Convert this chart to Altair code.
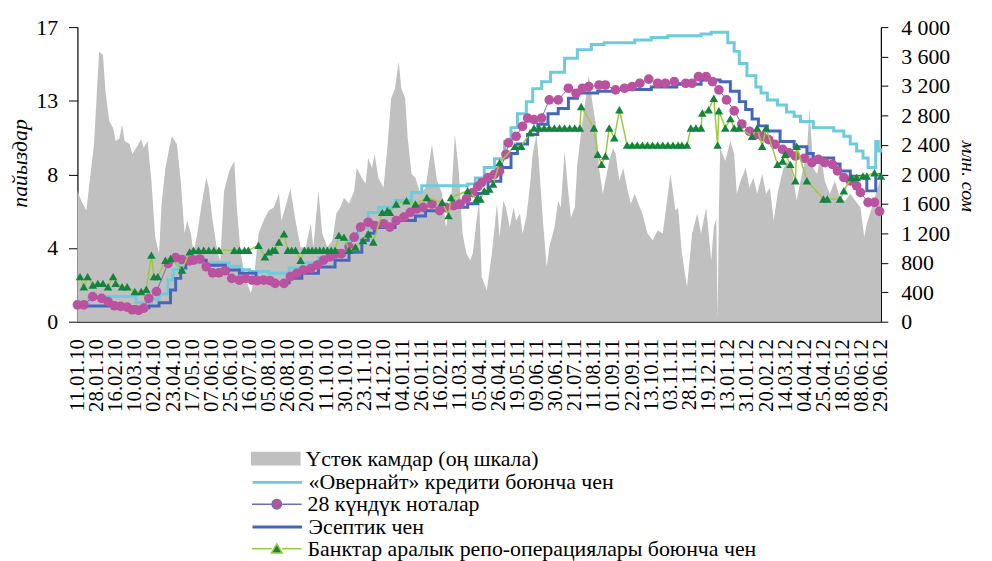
import altair as alt
import pandas as pd

FONT = "Liberation Serif, Times New Roman, Tinos, DejaVu Serif, serif"

date_labels = ['11.01.10','28.01.10','16.02.10','10.03.10','02.04.10','23.04.10','17.05.10','07.06.10',
               '25.06.10','16.07.10','05.08.10','26.08.10','20.09.10','11.10.10','30.10.10','23.11.10',
               '14.12.10','04.01.11','26.01.11','16.02.11','11.03.11','05.04.11','26.04.11','19.05.11',
               '09.06.11','30.06.11','21.07.11','11.08.11','01.09.11','22.09.11','13.10.11','03.11.11',
               '28.11.11','19.12.11','13.01.12','31.01.12','20.02.12','14.03.12','04.04.12','25.04.12',
               '18.05.12','08.06.12','29.06.12']
LABEL_STEP = 15  # observations between x tick labels
N_OBS = LABEL_STEP * (len(date_labels) - 1)

series_names = ['Үстөк камдар (оң шкала)', '«Овернайт» кредити боюнча чен', '28 күндүк ноталар',
                'Эсептик чен', 'Банктар аралык репо-операциялары боюнча чен']

# excess reserves (right axis, mln som)
area_idx = [0,3,7,9,13,17,20,22,25,28,30,33,35,37,41,43,46,50,52,55,58,61,64,66,69,72,74,78,81,84,86,89,91,94,97,
            101,103,106,110,112,115,119,123,125,128,132,136,138,142,146,150,154,158,160,163,167,171,175,179,183,
            185,189,192,196,200,203,206,209,213,217,219,223,226,228,231,233,236,240,243,246,249,252,254,257,259,
            262,265,269,273,278,282,286,289,293,296,299,302,305,308,310,313,315,317,321,325,329,331,334,336,339,
            342,344,347,349,352,355,357,360,362,365,368,370,374,377,379,382,385,387,390,392,396,399,401,404,407,
            409,412,414,417,420,422,425,428,431,434,437,441,443,447,451,455,459,463,465,469,471,474,478,482,486,
            489,493,497,499,501,502,503,504,508,512,515,517,520,524,527,530,533,537,540,543,546,549,553,556,560,
            564,568,572,574,577,580,583,586,590,594,598,602,606,610,614,617,619,623,626,630]
area_val = [1778,1643,1509,1818,2411,3664,3623,3125,2721,2627,2452,2492,2680,2452,2411,2276,2357,2478,2357,2452,
            1913,1145,929,1603,2088,2357,2519,2411,1913,1199,1374,1199,929,1199,1549,1953,1818,1374,929,835,1778,
            2047,2182,1549,929,566,391,525,1199,1374,1509,1549,1737,1374,1549,1805,1374,1010,1010,1333,1010,1778,
            1199,1010,1105,1468,1549,1684,1603,1778,2088,1953,1872,2223,2088,2276,1953,1818,2357,3031,3166,3529,
            3166,3031,2492,2007,1953,1737,1818,2411,1913,1737,1280,1643,2546,2047,1199,929,835,929,1374,1643,606,
            431,929,1603,1145,1643,1549,1280,1549,1374,1468,1199,1414,1872,2276,2546,2142,1374,741,1010,1280,1643,
            1549,2317,1737,1414,1549,2142,2721,3085,3354,2950,2627,2088,1737,1913,2182,2357,2276,1913,2088,1818,
            1603,1737,1549,1468,1199,1105,1239,1199,1737,2007,1509,1549,929,471,1199,1468,1199,1549,835,1280,1400,
            40,1500,2357,2182,2452,2276,1737,1913,2088,1818,1953,1737,2007,1737,1818,1374,1737,2047,2182,2088,1643,
            2007,2276,2896,2088,2007,2276,1913,1737,1913,1684,1643,1737,1643,1549,1145,1333,1549,1737,1953]

# overnight credit rate (%)
on_idx = [0,9,46,58,64,71,75,80,119,127,135,150,166,176,189,202,213,220,228,236,249,262,270,306,312,319,327,335,
          340,345,352,357,364,371,382,392,403,413,437,450,463,489,497,510,515,519,525,532,536,541,549,556,562,567,
          577,593,601,606,611,616,620,626,628,630]
on_val = [1.1,1.45,1.1,1.3,1.6,2.4,3.0,3.4,3.2,3.0,2.9,2.8,3.1,3.4,3.7,4.1,4.7,5.4,6.3,6.6,7.0,7.45,7.85,7.95,8.3,
          8.9,9.4,10.4,11.2,12.0,12.7,13.45,13.85,14.4,15.2,15.7,16.0,16.1,16.25,16.4,16.5,16.6,16.7,16.1,15.6,14.9,
          14.2,13.55,13.2,12.8,12.5,12.1,11.85,11.55,11.2,11.0,10.7,10.25,9.85,9.45,8.9,10.4,9.85,10.0]

# 28-day notes yield (%)
nt_idx = [0,5,12,19,24,29,34,39,43,48,52,56,62,71,77,82,88,91,96,101,106,111,116,121,127,132,137,141,146,151,155,
          162,167,172,177,183,188,193,198,203,207,213,217,222,228,233,240,245,250,256,261,266,271,278,284,289,295,
          300,305,310,314,317,322,327,331,336,338,344,349,353,358,364,370,377,385,391,396,401,409,414,422,429,435,
          441,448,455,461,468,477,482,487,493,498,503,509,515,521,527,532,537,542,547,553,558,563,570,576,581,586,
          592,596,601,606,611,614,620,625,629]
nt_val = [0.97,0.97,1.45,1.35,1.16,0.92,0.88,0.84,0.69,0.65,0.78,1.35,1.74,3.36,3.7,3.59,3.51,3.55,3.62,3.17,2.82,
          2.82,2.94,2.5,2.4,2.5,2.4,2.37,2.4,2.37,2.21,2.21,2.6,2.79,2.98,3.07,3.26,3.55,3.74,3.93,3.93,4.31,4.88,
          5.46,5.74,5.55,5.65,5.46,5.84,6.03,6.31,6.51,6.6,6.79,6.41,6.6,6.7,6.79,7.08,7.45,7.8,8.03,8.32,8.51,8.7,
          9.66,10.32,10.7,11.28,11.75,11.66,11.75,12.8,12.8,13.47,13.18,13.47,13.57,13.66,13.66,13.38,13.47,13.57,
          13.76,14.0,13.76,13.76,13.85,13.76,13.76,14.14,14.14,13.85,13.38,12.8,12.17,11.41,10.99,10.8,10.7,10.51,
          10.23,9.94,9.75,9.56,9.43,9.18,9.37,9.18,9.08,8.7,8.32,8.13,7.84,7.46,6.89,6.89,6.37]

# discount (base) rate (%)
bl_idx = [0,28,46,56,64,73,77,81,85,101,116,127,140,150,166,176,189,202,213,223,228,233,249,265,273,288,306,314,
          322,332,340,345,353,361,369,377,385,392,408,421,450,470,489,504,512,519,524,529,534,541,551,562,572,577,
          593,598,606,619,626,630]
bl_val = [0.9,0.86,0.8,0.9,1.09,1.83,2.5,3.1,3.55,3.26,2.98,2.8,2.5,2.25,2.5,2.8,3.15,3.55,4.0,4.7,5.1,5.44,5.84,
          6.1,6.4,6.6,6.8,7.4,8.1,8.9,9.7,10.25,10.8,11.4,12.0,12.3,12.9,13.2,13.3,13.4,13.55,13.7,13.95,13.85,13.3,
          12.7,12.25,11.7,11.3,11.0,10.4,10.1,9.7,9.45,9.1,8.7,8.4,7.55,8.5,8.5]

# interbank repo rate (%)
rp_idx = [2,5,8,12,16,20,24,28,30,35,39,45,50,54,58,60,63,69,73,82,88,91,95,99,103,107,111,123,127,131,134,142,147,
          150,153,155,158,162,165,168,171,175,178,181,184,187,190,193,196,199,202,205,209,213,218,224,228,232,239,
          243,245,250,258,265,274,286,291,293,306,313,316,319,323,326,331,343,348,355,358,362,366,370,374,378,382,
          386,390,394,395,405,408,411,414,417,421,425,431,435,439,443,447,451,455,459,463,467,471,474,478,481,485,
          489,490,495,499,502,503,508,512,515,519,529,533,537,540,549,553,555,559,563,564,572,585,588,598,601,607,
          611,616,619,625,630]
rp_val = [2.6,2.02,2.6,2.12,2.21,2.21,2.02,2.6,2.21,2.02,2.02,1.74,1.74,1.87,3.84,2.6,2.6,3.55,3.65,2.98,4.03,4.12,
          4.12,4.12,4.12,4.12,4.12,4.12,4.12,4.12,4.12,4.41,3.74,4.03,4.12,4.12,4.6,5.08,4.12,4.12,4.12,3.55,4.12,
          4.12,4.12,4.12,4.12,4.12,4.12,4.12,4.12,4.98,4.88,4.12,4.31,4.69,5.08,4.6,6.31,6.41,6.31,6.79,6.98,6.79,
          7.17,6.89,6.12,7.17,7.56,7.08,7.08,7.56,7.65,7.94,9.18,10.13,10.13,10.9,11.18,11.18,11.18,11.18,11.18,
          11.18,11.18,11.18,11.18,11.18,12.42,11.18,9.66,9.08,9.56,11.18,10.61,12.23,10.19,10.19,10.19,10.19,10.19,
          10.19,10.19,10.19,10.19,10.19,10.19,10.19,10.19,11.18,11.18,11.18,12.04,12.23,12.9,10.19,12.17,11.18,
          11.72,11.18,11.18,10.7,11.18,10.13,11.18,9.08,9.27,9.66,9.08,8.13,10.13,8.13,7.08,7.08,7.08,7.56,8.32,
          8.32,8.41,8.41,8.6,8.41]

colors = {'area': '#C0C0C0', 'on': '#6DCBDB', 'nt': '#B9529F', 'nt_line': '#6F6FB0',
          'bl': '#4566BA', 'rp': '#13843F', 'rp_line': '#9BCB3C'}

area_df = pd.DataFrame({'i': area_idx, 'v': area_val, 's': series_names[0]})
on_df = pd.DataFrame({'i': on_idx, 'v': on_val, 's': series_names[1]})
nt_df = pd.DataFrame({'i': nt_idx, 'v': nt_val, 's': series_names[2]})
bl_df = pd.DataFrame({'i': bl_idx, 'v': bl_val, 's': series_names[3]})
rp_df = pd.DataFrame({'i': rp_idx, 'v': rp_val, 's': series_names[4]})

xscale = alt.Scale(domain=[0, N_OBS], nice=False, zero=False)
lab_arr = "[" + ",".join("'" + d + "'" for d in date_labels) + "]"
xaxis = alt.Axis(values=list(range(0, N_OBS + 1, LABEL_STEP)),
                 labelExpr=f"{lab_arr}[round(datum.value/{LABEL_STEP})]",
                 labelAngle=270, labelAlign='right', labelBaseline='middle', labelPadding=17,
                 ticks=False, grid=False, domainColor='black', domainWidth=1.2,
                 labelFont=FONT, labelFontSize=21, labelColor='black', title=None, labelOverlap=False,
                 labelFlush=False, labelBound=False)
X = alt.X('i:Q', scale=xscale, axis=xaxis)

yL = alt.Scale(domain=[0, 17], nice=False, zero=True)
yR = alt.Scale(domain=[0, 4000], nice=False, zero=True)

left_axis = alt.Axis(values=[0, 4.25, 8.5, 12.75, 17],
                     labelExpr="['0','4','8','13','17'][round(datum.value/4.25)]",
                     grid=False, tickSize=9, tickColor='black', domainColor='black', domainWidth=1.2,
                     labelPadding=11, labelFont=FONT, labelFontSize=22, labelColor='black',
                     title='пайыздар', titleFont=FONT, titleFontSize=22, titleFontStyle='italic',
                     titleFontWeight='normal', titleColor='black', titleAngle=270,
                     titleX=-51, titleY=137, titleAlign='center', titleBaseline='alphabetic')
right_axis = alt.Axis(orient='right', values=list(range(0, 4001, 400)),
                      labelExpr="replace(format(datum.value, ','), ',', ' ')",
                      grid=False, tickSize=7, tickColor='black', domainColor='black', domainWidth=1.2,
                      labelPadding=13, labelFont=FONT, labelFontSize=22, labelColor='black',
                      title='млн. сом', titleFont=FONT, titleFontSize=20, titleFontStyle='italic',
                      titleFontWeight='normal', titleColor='black', titleAngle=90,
                      titleX=81, titleY=150, titleAlign='center', titleBaseline='alphabetic')


def leg(row, path, fill, stroke, sw):
    return alt.Legend(title=None, orient='none', legendX=175, legendY=410 + 22.5 * row,
                      symbolType=path, symbolSize=2500, symbolFillColor=fill, symbolStrokeColor=stroke,
                      symbolStrokeWidth=sw, symbolOpacity=1, labelFont=FONT, labelFontSize=22,
                      labelColor='black', labelOffset=5, padding=0, labelLimit=600)


def cscale(k, col):
    return alt.Scale(domain=[series_names[k]], range=[col])


LINE_PATH = "M-1,0H1"
area = alt.Chart(area_df).mark_area(opacity=1).encode(
    x=X,
    y=alt.Y('v:Q', scale=yR, axis=right_axis),
    color=alt.Color('s:N', scale=cscale(0, colors['area']),
                    legend=leg(0, "M-1,-0.28H1V0.28H-1Z", colors['area'], colors['area'], 0)))

on = alt.Chart(on_df).mark_line(interpolate='step-after', strokeWidth=3).encode(
    x=X,
    y=alt.Y('v:Q', scale=yL, axis=left_axis),
    color=alt.Color('s:N', scale=cscale(1, colors['on']),
                    legend=leg(1, LINE_PATH, 'transparent', colors['on'], 3)))

bl = alt.Chart(bl_df).mark_line(interpolate='step-after', strokeWidth=3).encode(
    x=X,
    y=alt.Y('v:Q', scale=yL, axis=None),
    color=alt.Color('s:N', scale=cscale(3, colors['bl']),
                    legend=leg(3, LINE_PATH, 'transparent', colors['bl'], 3)))

nt_line = alt.Chart(nt_df).mark_line(strokeWidth=1, color=colors['nt_line']).encode(
    x=X,
    y=alt.Y('v:Q', scale=yL, axis=None))

nt = alt.Chart(nt_df).mark_point(shape='circle', filled=True, size=95, opacity=1).encode(
    x=X,
    y=alt.Y('v:Q', scale=yL, axis=None),
    color=alt.Color('s:N', scale=cscale(2, colors['nt']),
                    legend=leg(2, "M-1,0H-0.19M0.19,0H1M-0.19,0A0.19,0.19 0 1,0 0.19,0A0.19,0.19 0 1,0 -0.19,0Z",
                               colors['nt'], colors['nt_line'], 1.5)))

rp_line = alt.Chart(rp_df).mark_line(strokeWidth=1.5, color=colors['rp_line']).encode(
    x=X,
    y=alt.Y('v:Q', scale=yL, axis=None))

rp = alt.Chart(rp_df).mark_point(shape='triangle-up', filled=True, size=75, opacity=1).encode(
    x=X,
    y=alt.Y('v:Q', scale=yL, axis=None),
    color=alt.Color('s:N', scale=cscale(4, colors['rp']),
                    legend=leg(4, "M-1,0H-0.2M0.2,0H1M0,-0.2L0.22,0.17L-0.22,0.17Z",
                               colors['rp'], colors['rp_line'], 1.5)))

chart = alt.layer(area, on, bl, nt_line, nt, rp_line, rp).resolve_scale(
    y='independent', color='independent'
).properties(
    width=810, height=297,
    autosize=alt.AutoSizeParams(type='none'),
    padding={'left': 70, 'top': 17, 'right': 104, 'bottom': 239},
    background='white'
).configure_view(stroke=None)

chart.save("out.html", embed_options={"renderer": "svg", "actions": False})
